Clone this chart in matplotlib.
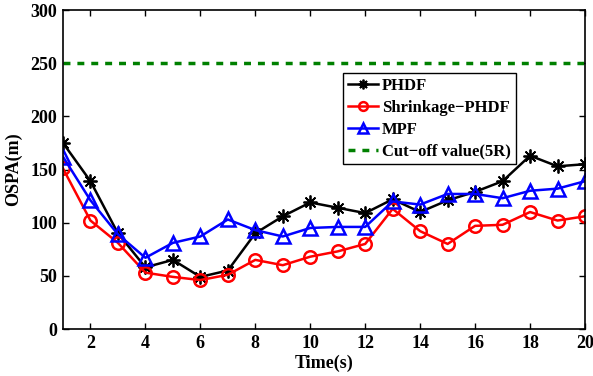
"""OSPA over time for PHDF, Shrinkage-PHDF and MPF."""

import matplotlib
matplotlib.use("Agg")
import matplotlib.pyplot as plt

matplotlib.rcParams["font.family"] = "Liberation Serif"
matplotlib.rcParams["font.weight"] = "bold"
matplotlib.rcParams["font.size"] = 13

time = list(range(1, 21))
phdf = [175, 139, 90, 58, 65, 49, 55, 90, 106, 119, 114, 109, 122, 110, 121, 129, 139, 163, 153, 155]
shrink = [151, 102, 81, 53, 49, 46, 51, 65, 60, 68, 73, 80, 113, 92, 80, 97, 98, 110, 102, 106]
mpf = [162, 121, 89, 67, 81, 87, 103, 93, 87, 95, 96, 96, 120, 117, 127, 127, 123, 130, 132, 139]
cutoff = 250

fig = plt.figure(figsize=(5.93, 3.76), dpi=100)
ax = fig.add_axes([0.1062, 0.125, 0.8803, 0.8484])

ax.plot(time, phdf, color="black", linewidth=1.8, marker=(8, 2, 0),
        markersize=10, markeredgewidth=1.3, label="PHDF")
ax.plot(time, shrink, color="red", linewidth=1.8, marker="o", markersize=9,
        markerfacecolor="none", markeredgewidth=1.8, label="Shrinkage\u2212PHDF")
ax.plot(time, mpf, color="blue", linewidth=1.8, marker="^", markersize=10,
        markerfacecolor="none", markeredgewidth=1.8, label="MPF")
ax.axhline(cutoff, color="green", linestyle=(0, (2, 2)), linewidth=2.5,
           label="Cut\u2212off value(5R)")

ax.set_xlim(1, 20)
ax.set_ylim(0, 300)
ax.set_xticks(range(2, 21, 2))
ax.set_yticks(range(0, 301, 50))
ax.tick_params(direction="in", length=4, width=1, top=True, right=True,
               labelsize=13, pad=4)
for s in ax.spines.values():
    s.set_linewidth(1.2)

ax.set_xlabel("Time(s)", fontsize=13, fontweight="bold", labelpad=2)
ax.set_ylabel("OSPA(m)", fontsize=13, fontweight="bold", labelpad=6)

leg = ax.legend(loc="upper left", bbox_to_anchor=(0.537, 0.803), borderaxespad=0,
                fancybox=False, framealpha=1, edgecolor="black", fontsize=12,
                handlelength=1.8, handletextpad=0.2, borderpad=0.3,
                labelspacing=0.35, markerscale=0.7)
leg.get_frame().set_linewidth(1.0)

plt.savefig("out.png", dpi=100)
